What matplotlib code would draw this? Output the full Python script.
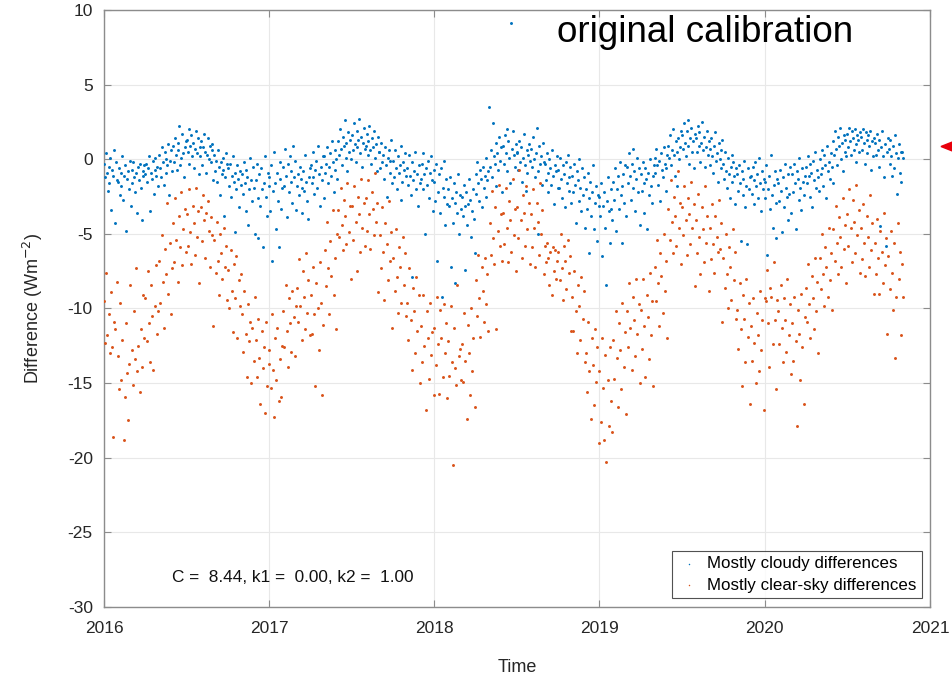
import matplotlib
matplotlib.use("Agg")
import pandas as pd
import matplotlib.pyplot as plt
import matplotlib.dates as mdates
from datetime import datetime
from matplotlib.patches import Polygon

plt.rcParams['font.family'] = ['Liberation Sans', 'DejaVu Sans']
plt.rcParams['axes.unicode_minus'] = False

# Anos e fim do periodo de cada ano (valores distribuidos ao longo do periodo)
anos = [2016, 2017, 2018, 2019, 2020]
fim_periodo = ["2016-12-30", "2017-12-30", "2018-12-30", "2019-12-30", "2020-11-03"]

# Diferencas (Wm-2) - dias maioritariamente nublados, uma linha por mes
nublado_2016 = [
    -0.3, -1.2, 0.4, -0.9, -2.1, -0.5, -1.6, 0.1, -3.4, -0.7, -1.1, 0.6, -4.3, -0.2, -1.4,
    -1.5, -0.6, -2.4, -0.9, -1.8, 0.2, -2.7, -1.1, -0.4, -4.8, -1.3, -0.8, -2.0, -0.1, -3.1,
    -0.7, -1.6, -0.2, -1.2, -2.2, -0.9, -3.6, -0.5, -1.4, -0.3, -1.9, -4.1, -0.8, -1.1, -0.4,
    -1.0, -0.3, -1.5, -0.6, 0.2, -3.5, -0.9, -1.3, -0.1, -2.3, -0.7, 0.1, -1.1, -0.5, -1.8,
    0.3, -0.6, -1.2, 0.8, -0.2, -1.7, 0.5, -0.9, 0.0, -0.4, 1.0, -2.4, -0.1, 0.6, -0.8,
    0.9, -0.2, 1.4, 0.3, -0.7, 1.1, 0.6, 2.2, -0.4, 0.1, 1.7, 0.4, -1.2, 0.8, 1.2,
    1.3, 0.5, 2.0, -0.3, 0.9, 1.6, 0.2, 1.1, -0.6, 0.7, 1.9, 0.4, 1.4, -1.0, 0.8,
    0.2, 1.2, -0.4, 0.8, 1.7, 0.5, -0.9, 0.3, 1.4, 0.0, 0.9, -0.2, 1.0, 0.6, -1.4,
    0.3, -0.8, -0.1, -1.5, 0.6, -0.5, -2.4, -0.2, -1.0, 0.1, -0.7, -3.8, -1.2, 0.4, -0.3,
    -0.6, -1.8, -0.3, -2.5, -1.1, 0.2, -1.5, -4.9, -0.9, -2.0, -0.4, -1.3, -3.2, -0.8, -1.7,
    -1.0, -2.3, -0.2, -1.6, -3.5, -0.7, -1.2, -4.4, -2.0, 0.1, -1.4, -2.8, -0.5, -1.9, -5.0,
    -1.4, -0.3, -2.6, -5.3, -1.0, -3.1, -0.6, -2.0, -5.9, -1.6, 0.2, -2.5, -3.8, -0.9, -1.8,
]
nublado_2017 = [
    -1.2, -3.5, -0.4, -6.8, -2.1, 0.5, -1.6, -4.7, -0.9, -2.8, -5.9, -1.3, -0.2, -3.3, -1.9,
    -0.5, -1.8, 0.7, -1.1, -3.9, -0.3, -2.2, 0.2, -1.5, -0.8, -2.9, 0.9, -1.2, -0.1, -3.4,
    -1.8, -1.0, -2.4, -0.5, -1.3, -3.6, -1.9, -0.8, -2.1, 0.3, -1.5, -2.8, -4.0, -1.2, -0.6,
    -0.4, -1.6, 0.5, -1.2, -2.3, -0.7, -0.1, -1.9, 0.9, -1.0, -3.1, -0.5, -1.4, 0.2, -2.6,
    0.2, -0.9, -0.3, 0.8, -1.6, -0.5, 0.4, -1.1, 1.2, -0.2, -2.2, 0.6, -0.7, 0.0, -1.3,
    1.2, 0.3, 2.0, 0.7, -0.4, 1.5, 0.9, 2.6, 0.1, 1.1, -0.8, 1.8, 0.5, 1.3, 0.0,
    1.6, 0.6, 2.4, 1.0, -0.2, 1.9, 0.8, 1.3, 2.7, 0.4, 1.5, -0.5, 1.1, 2.1, 0.7,
    0.9, 1.7, 0.3, 1.2, 2.2, 0.6, -0.3, 1.4, 0.8, 1.9, 0.1, 1.0, -0.8, 1.5, 0.5,
    0.5, -0.6, 1.1, -0.2, 0.3, -1.3, 0.8, -0.4, -2.5, 0.1, 0.6, -0.9, -0.1, 1.3, -1.6,
    -0.1, -1.2, 0.6, -0.6, -2.0, 0.2, -0.9, -0.4, -2.7, 0.9, -1.5, -0.2, -0.7, 0.4, -1.1,
    -0.6, -1.7, 0.3, -1.1, -2.4, -0.2, -7.9, -1.4, -0.8, 0.5, -2.0, -1.0, -3.1, -0.4, -1.6,
    -1.3, -0.3, -2.0, 0.4, -1.0, -5.0, -0.6, -1.7, -0.1, -2.6, -0.9, 0.2, -1.4, -3.5, -0.7,
]
nublado_2018 = [
    -1.5, -2.8, -0.3, -6.8, -2.2, -1.0, -3.6, -0.6, -9.2, -1.9, -2.5, -0.1, -4.4, -1.3, -3.0,
    -2.0, -3.1, -1.2, -7.2, -2.6, -4.3, -1.6, -2.9, -8.3, -2.2, -3.6, -1.0, -5.0, -2.4, -3.3,
    -2.5, -3.8, -1.7, -3.1, -7.4, -2.2, -4.4, -3.0, -1.3, -2.7, -5.2, -3.5, -2.0, -4.0, -6.3,
    -1.0, -2.3, -0.2, -1.6, -2.8, -0.7, -1.3, -3.2, -0.5, -1.9, -1.1, 0.1, -2.5, -1.4, -0.8,
    3.5, -0.5, 0.6, -1.2, 2.4, 0.2, -0.3, 1.1, -1.8, 0.4, -0.7, 1.5, -0.1, 0.8, -2.2,
    0.9, -0.3, 1.6, 0.4, 2.0, -0.8, 1.2, 0.1, -1.6, 9.1, 0.7, 1.9, 0.3, -0.5, 1.0, 0.5,
    0.4, -0.7, 1.2, -0.2, 0.8, -1.5, 0.1, 1.7, -0.4, -2.1, 0.6, -0.9, 0.3, 1.0, -0.1,
    0.7, -0.5, 1.5, 0.0, -1.2, 0.4, 2.1, -0.8, -5.0, 0.9, -0.3, 0.2, -1.7, 1.1, -0.2,
    -0.3, -1.4, 0.4, -0.9, -2.2, 0.0, -0.6, -1.7, 0.6, -1.1, -3.0, -0.4, -0.8, 0.2, -1.9,
    -0.7, -1.9, 0.1, -1.3, -2.6, -0.4, -1.0, -3.2, -0.2, -1.6, 0.3, -2.1, -1.2, -0.5, -2.9,
    -1.1, -2.2, -0.3, -1.7, -4.3, -0.8, -1.4, -2.8, 0.0, -1.9, -3.5, -0.6, -2.4, -1.2, -4.6,
    -2.0, -3.3, -0.9, -2.6, -6.3, -1.5, -3.8, -2.2, -0.4, -4.7, -2.9, -1.8, -5.5, -2.4, -3.1,
]
nublado_2019 = [
    -2.5, -3.8, -1.6, -6.5, -3.1, -2.2, -4.6, -8.4, -2.8, -1.2, -3.5, -5.6, -2.0, -3.3, -4.1,
    -1.5, -2.7, -0.6, -4.8, -2.0, -1.1, -3.3, -0.2, -2.4, -1.8, -5.6, -1.0, -2.9, -0.4, -3.8,
    -0.5, -1.6, 0.4, -1.1, -2.7, -0.3, -1.9, 0.7, -0.8, -3.5, -1.3, 0.1, -2.2, -0.6, -4.4,
    -1.0, -2.1, -0.2, -1.6, -3.6, -0.6, -1.3, -4.7, -0.9, -2.4, 0.0, -1.8, -2.9, -1.1, -0.4,
    0.1, -0.9, 0.7, -0.4, -1.7, -0.1, -2.8, 0.4, -0.7, -1.2, 0.8, -0.3, -2.1, -0.6, 0.3,
    0.9, 0.1, 1.6, -0.4, 0.6, 2.0, 0.3, -1.1, 1.2, 0.5, -1.8, 1.4, 0.0, 0.8, 1.9,
    1.6, 0.7, 2.4, 1.1, 0.2, 1.9, 2.6, 0.9, -0.3, 1.4, 2.1, 0.5, 1.2, -0.6, 1.7,
    1.4, 0.5, 2.2, 0.9, 1.8, -0.2, 1.1, 2.5, 0.6, 1.5, -0.5, 0.8, 1.9, 0.3, 1.2,
    0.7, -0.4, 1.4, 0.2, -0.9, 0.9, 1.8, -0.1, 0.4, -1.5, 1.1, 0.0, 0.6, -0.6, 1.3,
    -0.3, -1.3, 0.5, -0.8, -1.9, 0.1, -1.0, -2.6, -0.5, 0.3, -1.5, -0.2, -1.1, -3.0, -0.6,
    -1.0, -2.1, -0.4, -1.6, -5.5, -0.8, -2.4, -1.3, -0.1, -3.2, -1.8, -5.7, -0.6, -2.0, -1.2,
    -1.1, -2.3, -0.5, -1.4, -3.0, -0.2, -1.8, -1.0, -2.6, 0.1, -1.6, -3.5, -0.8, -2.0, -1.3,
]
nublado_2020 = [
    -1.5, -2.6, -0.4, -6.4, -2.0, -1.1, -3.3, 0.3, -2.4, -4.6, -1.7, -0.8, -2.9, -5.3, -1.3,
    -1.6, -2.8, -0.7, -2.1, -4.9, -1.2, -3.2, -0.3, -1.9, -2.5, -4.1, -1.0, -2.3, -0.5, -3.6,
    -1.0, -2.2, -0.3, -1.6, -4.7, -0.8, -1.3, -2.7, 0.1, -1.9, -3.4, -0.6, -1.5, -2.4, -1.1,
    -0.5, -1.6, 0.2, -1.1, -2.5, -0.3, -0.9, -3.2, -0.1, -1.4, 0.5, -1.9, -0.7, -1.2, -2.1,
    0.0, -1.0, 0.6, -0.6, -1.8, 0.3, -0.4, -2.6, 0.9, -0.8, -0.2, -1.3, 0.4, -0.5, -1.6,
    1.2, 0.3, 1.9, 0.7, -0.4, 1.5, 0.9, 2.1, 0.0, 1.1, -0.8, 1.6, 0.5, 1.3, 0.2,
    1.7, 0.8, 2.1, 1.2, 0.3, 1.9, 1.4, 0.6, 2.0, 1.0, -0.2, 1.6, 1.3, 0.5, 1.8,
    1.5, 0.6, 2.0, 1.1, -0.3, 1.8, 1.3, 0.4, 1.6, 0.9, 1.9, -0.7, 1.2, 0.2, 1.4,
    1.1, 0.3, 1.7, 0.6, -0.5, 1.3, -4.5, 0.8, 1.9, 0.2, -1.2, 1.0, -5.8, 0.5, 1.4,
    0.7, -0.3, 1.3, 0.2, -1.1, 0.9, -0.6, 1.6, 0.4, -2.3, 0.1, 1.0, -0.9, 0.5, -1.5,
    0.5, 0.1,
]

# Diferencas (Wm-2) - dias maioritariamente de ceu limpo, uma linha por mes
limpo_2016 = [
    -9.5, -12.3, -7.6, -11.8, -10.4, -13.0, -8.9, -12.6, -18.6, -10.9, -11.4, -8.2,
    -13.2, -15.4, -9.6, -14.8, -12.1, -18.8, -15.9, -11.0, -14.3, -17.5, -13.7, -8.4,
    -12.8, -15.1, -10.2, -13.4, -7.3, -14.2, -12.5, -15.6, -11.4, -13.9, -9.1, -12.0,
    -9.3, -12.2, -7.5, -11.0, -13.6, -8.4, -10.5, -14.1, -9.8, -7.1, -11.7, -10.2,
    -6.8, -9.6, -5.1, -8.2, -11.3, -6.0, -7.7, -2.9, -9.0, -5.6, -10.4, -7.3,
    -4.3, -6.9, -2.6, -5.4, -8.2, -3.8, -5.9, -2.2, -7.1, -4.7, -3.3, -6.2,
    -3.7, -5.8, -2.0, -4.9, -7.0, -3.1, -4.3, -6.4, -1.9, -5.2, -3.5, -8.3,
    -3.2, -5.5, -2.4, -4.1, -6.6, -3.6, -2.8, -4.8, -7.2, -3.9, -5.1, -11.2,
    -5.4, -7.6, -4.2, -6.8, -9.1, -5.0, -6.3, -8.0, -4.6, -7.2, -5.8, -9.4,
    -7.4, -10.0, -6.1, -8.8, -11.6, -7.0, -9.3, -6.5, -12.0, -8.1, -9.8, -7.7,
    -10.4, -12.9, -8.8, -11.7, -14.6, -9.7, -12.2, -10.9, -15.0, -11.3, -13.5, -9.2,
    -12.1, -14.6, -10.7, -13.3, -16.4, -11.5, -14.0, -12.6, -17.0, -10.9, -15.2, -13.7,
]
limpo_2017 = [
    -12.8, -15.3, -10.4, -14.1, -17.3, -12.0, -14.8, -11.3, -16.2, -13.4, -15.9, -12.5,
    -10.2, -12.6, -8.4, -11.5, -13.9, -9.3, -11.0, -12.9, -8.8, -10.6, -13.2, -9.8,
    -8.6, -10.9, -6.7, -9.8, -12.1, -7.5, -9.2, -11.4, -6.3, -10.3, -8.1, -11.8,
    -9.1, -11.7, -7.2, -10.4, -15.2, -8.3, -10.0, -12.8, -6.9, -9.6, -15.8, -11.1,
    -6.1, -8.5, -4.2, -7.3, -10.4, -5.5, -7.8, -3.4, -9.1, -6.6, -11.4, -5.0,
    -3.4, -5.2, -1.9, -4.4, -6.1, -2.7, -3.8, -5.7, -1.6, -4.9, -3.1, -8.0,
    -3.1, -5.4, -1.8, -4.2, -7.5, -2.5, -3.7, -6.2, -1.3, -4.6, -2.9, -5.8,
    -2.6, -4.8, -1.4, -3.7, -6.0, -2.2, -3.3, -5.1, -0.9, -4.2, -2.9, -8.9,
    -5.1, -7.3, -3.2, -6.2, -9.4, -4.3, -5.7, -8.1, -2.8, -6.8, -4.9, -11.3,
    -6.6, -8.8, -4.7, -7.9, -10.3, -5.9, -7.2, -9.6, -5.2, -8.4, -6.3, -10.5,
    -9.6, -12.1, -7.3, -10.8, -14.1, -8.6, -10.2, -13.0, -7.9, -11.5, -9.1, -15.0,
    -11.2, -13.6, -9.1, -12.5, -16.8, -10.2, -12.0, -14.7, -9.6, -13.1, -11.6, -15.8,
]
limpo_2018 = [
    -11.3, -13.8, -9.2, -12.4, -15.7, -10.1, -12.0, -14.6, -9.7, -13.0, -11.0, -16.0,
    -12.2, -14.5, -9.8, -13.6, -20.5, -11.3, -14.0, -15.1, -8.4, -13.2, -12.7, -14.8,
    -12.4, -14.9, -10.3, -13.5, -17.4, -11.1, -13.0, -15.8, -10.0, -14.2, -12.0, -16.6,
    -8.1, -10.5, -6.4, -9.3, -11.9, -7.2, -8.8, -10.9, -6.6, -9.7, -7.7, -11.5,
    -4.3, -6.4, -2.1, -5.3, -7.0, -3.2, -11.4, -4.8, -1.7, -5.8, -3.7, -6.8,
    -3.6, -5.7, -1.9, -4.6, -6.9, -2.8, -4.1, -6.2, -1.3, -5.1, -3.3, -7.5,
    -3.2, -5.3, -0.7, -4.1, -6.6, -2.4, -3.6, -5.8, -1.8, -4.7, -2.9, -7.0,
    -3.7, -5.9, -2.0, -4.6, -7.2, -2.9, -4.2, -6.4, -1.6, -5.0, -3.4, -7.7,
    -5.8, -6.9, -5.6, -6.6, -8.4, -6.2, -9.1, -5.9, -7.5, -6.1, -8.0, -6.8,
    -6.2, -8.1, -5.0, -7.3, -9.4, -5.8, -6.8, -8.7, -5.4, -7.6, -6.5, -11.5,
    -9.2, -11.5, -7.5, -10.2, -13.0, -8.4, -9.8, -12.1, -7.9, -10.7, -8.8, -13.6,
    -13.0, -15.6, -10.9, -14.2, -17.4, -12.0, -13.8, -16.5, -11.4, -14.9, -12.6, -19.0,
]
limpo_2019 = [
    -14.2, -17.6, -12.0, -15.3, -18.8, -13.1, -20.3, -14.8, -17.9, -12.6, -16.2, -18.3,
    -12.1, -14.7, -10.2, -13.3, -16.6, -11.0, -12.8, -15.4, -9.6, -13.9, -11.6, -17.1,
    -10.2, -12.6, -8.3, -11.3, -14.1, -9.2, -10.8, -13.2, -8.0, -11.7, -9.7, -15.0,
    -10.1, -12.7, -8.0, -11.2, -14.6, -9.1, -10.6, -13.4, -7.6, -11.8, -9.5, -15.2,
    -7.2, -9.5, -5.4, -8.3, -11.2, -6.3, -7.8, -10.3, -5.0, -8.8, -6.8, -12.0,
    -3.3, -5.4, -1.4, -4.2, -6.3, -2.5, -3.8, -5.8, -0.8, -4.6, -2.9, -7.0,
    -3.2, -5.1, -1.8, -4.1, -6.4, -2.6, -3.7, -5.7, -1.5, -4.6, -3.0, -8.5,
    -4.1, -6.3, -2.3, -5.2, -7.7, -3.2, -4.7, -6.9, -1.8, -5.6, -3.8, -8.8,
    -4.6, -6.7, -3.0, -5.7, -7.6, -3.8, -5.2, -6.2, -2.7, -6.0, -4.3, -10.9,
    -6.6, -8.6, -5.0, -7.7, -10.0, -5.9, -7.2, -9.4, -4.7, -8.1, -6.2, -10.7,
    -10.1, -12.7, -8.3, -11.4, -15.2, -9.1, -10.7, -13.6, -8.0, -11.9, -9.6, -16.4,
    -11.2, -13.5, -9.3, -12.3, -15.0, -10.3, -11.8, -14.2, -8.8, -12.8, -10.8, -16.8,
]
limpo_2020 = [
    -9.3, -9.5, -7.4, -11.0, -13.9, -8.6, -9.2, -12.4, -6.9, -10.8, -15.4, -9.4,
    -10.2, -12.4, -8.4, -11.3, -13.6, -9.3, -10.8, -12.9, -8.0, -11.8, -9.7, -14.4,
    -11.0, -13.5, -9.2, -12.2, -17.9, -10.1, -11.7, -14.8, -9.0, -12.6, -16.4, -10.6,
    -8.6, -10.9, -7.0, -9.7, -12.0, -7.8, -9.3, -11.4, -6.6, -10.2, -8.2, -13.0,
    -6.6, -8.7, -5.0, -7.7, -9.8, -5.9, -7.2, -9.2, -4.6, -8.1, -6.3, -10.1,
    -4.7, -6.8, -3.1, -5.6, -7.7, -3.9, -5.2, -7.2, -2.6, -6.0, -4.4, -8.3,
    -3.7, -5.8, -2.0, -4.6, -6.9, -2.7, -4.2, -6.3, -1.7, -5.1, -3.4, -7.6,
    -4.6, -6.7, -3.0, -5.6, -7.8, -3.8, -5.2, -7.2, -2.4, -6.1, -4.3, -9.0,
    -5.6, -7.7, -4.0, -6.6, -9.0, -4.8, -6.2, -8.3, -3.6, -7.1, -5.3, -11.7,
    -6.5, -8.7, -4.8, -7.6, -10.1, -5.6, -13.3, -9.2, -4.3, -8.0, -6.2, -11.8,
    -7.0, -9.2,
]

nublado = [nublado_2016, nublado_2017, nublado_2018, nublado_2019, nublado_2020]
limpo = [limpo_2016, limpo_2017, limpo_2018, limpo_2019, limpo_2020]


def serie_temporal(listas):
    # Junta as listas anuais numa serie com datas espalhadas por cada ano
    partes = []
    for ano, fim, valores in zip(anos, fim_periodo, listas):
        datas = pd.date_range(f"{ano}-01-01", fim, periods=len(valores))
        partes.append(pd.Series(valores, index=datas))
    return pd.concat(partes)


s_nublado = serie_temporal(nublado)
s_limpo = serie_temporal(limpo)

azul = '#0072BD'
laranja = '#D95319'

fig = plt.figure(figsize=(9.52, 6.81), dpi=100)
ax = fig.add_axes([0.1092, 0.1087, 0.8677, 0.8766])

ax.scatter(s_nublado.index, s_nublado.values, s=4.5, color=azul, linewidths=0,
           label='Mostly cloudy differences', zorder=3)
ax.scatter(s_limpo.index, s_limpo.values, s=4.5, color=laranja, linewidths=0,
           label='Mostly clear-sky differences', zorder=3)

ax.set_xlim(datetime(2016, 1, 1), datetime(2021, 1, 1))
ax.set_ylim(-30, 10)
ax.set_yticks(range(-30, 11, 5))
ax.xaxis.set_major_locator(mdates.YearLocator())
ax.xaxis.set_major_formatter(mdates.DateFormatter('%Y'))

ax.grid(True, color='#e8e8e8', linewidth=0.8)
ax.set_axisbelow(True)
for lado in ax.spines.values():
    lado.set_color('#8c8c8c')
    lado.set_linewidth(1.0)
ax.tick_params(direction='in', length=5, color='#8c8c8c', labelsize=12.5,
               labelcolor='#262626', top=True, right=True)
ax.tick_params(axis='x', pad=10)
ax.tick_params(axis='y', pad=8)

ax.set_xlabel('Time', fontsize=13, color='#262626', labelpad=17)
ax.set_ylabel('Difference (Wm$^{-2}$)', fontsize=13, color='#262626', labelpad=16)

ax.text(0.0823, 0.0486, 'C =  8.44, k1 =  0.00, k2 =  1.00', transform=ax.transAxes,
        fontsize=12.4, va='center', ha='left', color='#111111')
ax.text(0.7276, 0.963, 'original calibration', transform=ax.transAxes,
        fontsize=26.5, va='center', ha='center', color='black')

leg = ax.legend(loc='lower right', bbox_to_anchor=(0.990, 0.015), fontsize=12.2,
                frameon=True, fancybox=False, markerscale=0.5, handletextpad=0.4,
                borderpad=0.3, labelspacing=0.4, handlelength=1.4,
                borderaxespad=0.0)
leg.get_frame().set_edgecolor('#262626')
leg.get_frame().set_linewidth(0.8)

# Seta vermelha cortada na margem direita
seta = Polygon([(941 / 952, 1 - 146.5 / 681), (965 / 952, 1 - 137 / 681),
                (965 / 952, 1 - 156 / 681)], closed=True, color='#e8000b',
               transform=fig.transFigure)
fig.patches.append(seta)

fig.savefig('out.png', dpi=100)
